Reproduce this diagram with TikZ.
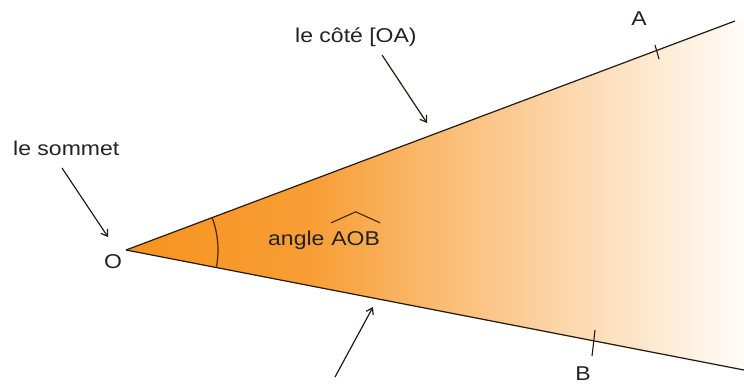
\documentclass[tikz,border=0pt]{standalone}
\usepackage{fontspec}
\setmainfont{Liberation Sans}[FakeStretch=1.15]
\usepackage{tikz}
\usetikzlibrary{
  arrows.meta,
  positioning,
  calc
}
\definecolor{agOrange}{HTML}{F7931E}
\definecolor{agInk}{HTML}{231A12}
\definecolor{agArc}{HTML}{4A2506}
\definecolor{agText}{HTML}{222222}
\pgfdeclarehorizontalshading{agfade}{100bp}{
  color(0bp)=(agOrange); color(25bp)=(agOrange);
  color(40bp)=(agOrange!90!white); color(49bp)=(agOrange!66!white);
  color(63.5bp)=(agOrange!30!white); color(75bp)=(agOrange!3!white);
  color(100bp)=(agOrange!3!white)}
\tikzset{
  rayline/.style={line width=1.2pt, agInk},
  tickmark/.style={line width=1.1pt, agInk},
  anglearc/.style={line width=1.2pt, agArc},
  pointer/.style={-{Straight Barb[length=6pt, width=8pt]}, line width=1.2pt, agInk},
  lbl/.style={inner sep=0pt, text=agText, font=\fontsize{20}{24}\selectfont},
  hatline/.style={line width=1.1pt, agArc}
}
\begin{document}
\begin{tikzpicture}[x=1pt, y=-1pt]
  \useasboundingbox (0,0) rectangle (744,385);
  % sommet et bords
  \coordinate (O) at (126,250);
  \coordinate (Aend) at (735,21);
  \coordinate (Bend) at (744,370);
  \coordinate (topEdge) at (744,18);
  \coordinate (botEdge) at (744,371);
  \shade[shading=agfade] (O) -- (topEdge) -- (botEdge) -- cycle;
  \draw[rayline] (O) -- (Aend);
  \draw[rayline] (O) -- (Bend);
  % marques A et B
  \coordinate (tA) at (657,51);
  \coordinate (tB) at (594,340);
  \draw[tickmark] ([shift={(-2,-6)}]tA) -- ([shift={(2,8)}]tA);
  \draw[tickmark] ([shift={(1,-10)}]tB) -- ([shift={(-2,16)}]tB);
  % arc de l'angle
  \draw[anglearc] (O) ++(-20.6:92) arc[start angle=-20.6, end angle=11, radius=92];
  % textes
  \node[lbl] (lblO) at (113,262) {O};
  \node[lbl] (lblA) at (639,19) {A};
  \node[lbl] (lblB) at (583,374) {B};
  \node[lbl, anchor=base west] (lblSommet) at (13,156) {le sommet};
  \node[lbl, anchor=base west] (lblCote) at (295,43) {le côté [OA)};
  \node[lbl, anchor=base west] (lblAngle) at (268,245) {angle};
  \node[lbl, base right=6.5pt of lblAngle] (lblAOB) {AOB};
  \draw[hatline] ([yshift=8pt]lblAOB.north west) -- ([yshift=19pt]lblAOB.north)
    -- ([yshift=8pt]lblAOB.north east);
  % fleches
  \coordinate (tailSommet) at (62,168);
  \coordinate (tipSommet) at (108,237);
  \coordinate (tailCote) at (382,55);
  \coordinate (tipCote) at (427,123);
  \coordinate (tailBas) at (335,377);
  \coordinate (tipBas) at (373,307);
  \draw[pointer] (tailSommet) -- (tipSommet);
  \draw[pointer] (tailCote) -- (tipCote);
  \draw[pointer] (tailBas) -- (tipBas);
\end{tikzpicture}
\end{document}
